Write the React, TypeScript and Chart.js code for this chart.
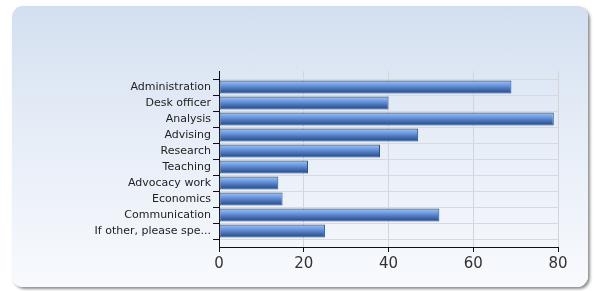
import React, { useEffect, useRef } from "react";
import { Chart, registerables } from "chart.js";

Chart.register(...registerables);

const categories = [
  "Administration",
  "Desk officer",
  "Analysis",
  "Advising",
  "Research",
  "Teaching",
  "Advocacy work",
  "Economics",
  "Communication",
  "If other, please spe...",
];
const values = [69, 40, 79, 47, 38, 21, 14, 15, 52, 25];
const xTicks = [0, 20, 40, 60, 80];

export default function App() {
  const ref = useRef<HTMLCanvasElement | null>(null);

  useEffect(() => {
    if (!ref.current) return;
    const labels = ["", ...categories, ""];
    const data = [null, ...values, null];

    const chart = new Chart(ref.current, {
      type: "bar",
      data: {
        labels,
        datasets: [
          {
            data,
            categoryPercentage: 1,
            barPercentage: 0.8,
            borderWidth: 1,
            borderColor: "#2f4f82",
            borderSkipped: false,
            backgroundColor: (ctx: any) => {
              const c = ctx.chart;
              const ys = c.scales?.y;
              if (!ys || !c.chartArea || ctx.dataIndex == null) return "#4a78c0";
              const yc = ys.getPixelForValue(ctx.dataIndex);
              const band = Math.abs(ys.getPixelForValue(1) - ys.getPixelForValue(0));
              const h = band * 0.8;
              const g = c.ctx.createLinearGradient(0, yc - h / 2, 0, yc + h / 2);
              g.addColorStop(0, "#4a72b4");
              g.addColorStop(0.15, "#88b2f0");
              g.addColorStop(0.35, "#6e9ae0");
              g.addColorStop(0.6, "#4e78bf");
              g.addColorStop(0.85, "#36598f");
              g.addColorStop(1, "#2a4674");
              return g;
            },
          },
        ],
      },
      options: {
        indexAxis: "y",
        animation: false,
        responsive: false,
        maintainAspectRatio: false,
        layout: { padding: { left: 0, right: 30, top: 65, bottom: 6 } },
        plugins: { legend: { display: false }, tooltip: { enabled: false } },
        scales: {
          x: {
            type: "linear",
            min: 0,
            max: 80,
            afterBuildTicks: (s: any) => {
              s.ticks = xTicks.map((v) => ({ value: v }));
            },
            grid: {
              color: "#d2d6dc",
              tickColor: "#111",
              tickLength: 5,
              drawOnChartArea: true,
            },
            border: { color: "#111", width: 1 },
            ticks: {
              color: "#333",
              font: { family: "DejaVu Sans", size: 15 },
              padding: 3,
            },
            afterFit: (s: any) => {
              s.height = 34;
            },
          },
          y: {
            type: "category",
            offset: false,
            grid: {
              color: "#d6dae0",
              tickColor: "#111",
              tickLength: 6,
            },
            border: { color: "#111", width: 1 },
            ticks: {
              color: "#222",
              autoSkip: false,
              font: { family: "DejaVu Sans", size: 11 },
              padding: 2,
            },
            afterFit: (s: any) => {
              s.width = 207;
            },
          },
        },
      },
    });
    return () => chart.destroy();
  }, []);

  return (
    <div
      style={{
        position: "absolute",
        left: 12,
        top: 6,
        width: 576,
        height: 281,
        borderRadius: 11,
        background: "linear-gradient(to bottom, #d3dff0 0%, #e6edf7 45%, #f8fafd 100%)",
        boxShadow: "2px 2px 3px rgba(0,0,0,0.45)",
        overflow: "hidden",
      }}
    >
      <canvas ref={ref} width={576} height={281} style={{ display: "block" }} />
    </div>
  );
}
